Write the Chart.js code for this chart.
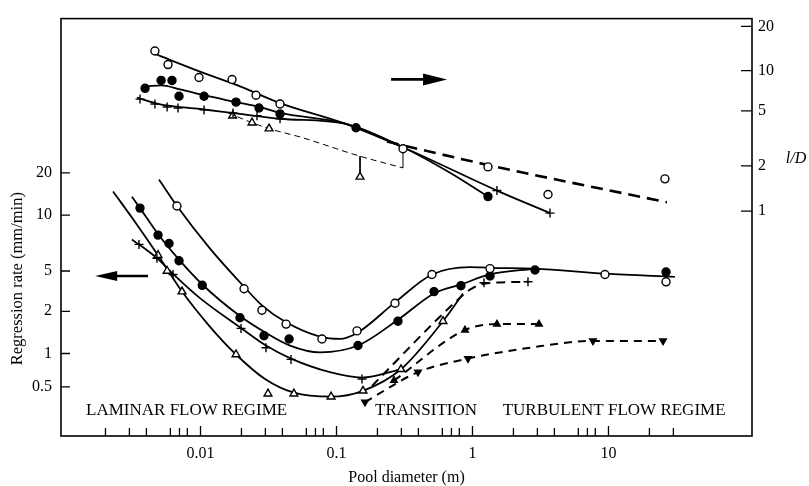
<!DOCTYPE html>
<html>
<head>
<meta charset="utf-8">
<title>Regression rate and l/D against pool diameter</title>
<script src="https://cdn.jsdelivr.net/npm/chart.js@4.4.1/dist/chart.umd.min.js"></script>
<style>
  html, body { margin: 0; padding: 0; background: #fff; }
</style>
</head>
<body>
<canvas id="chart" width="809" height="486"></canvas>
<script>
// ---- tick labels ----
const xTickLabels = [0.01, 0.1, 1, 10];
const xMinorTicks = [0.002, 0.003, 0.004, 0.006, 0.007, 0.008,
  0.02, 0.03, 0.04, 0.06, 0.07, 0.08,
  0.2, 0.3, 0.4, 0.6, 0.7, 0.8,
  2, 3, 4, 6, 7, 8, 20, 30];
const rateTicks = [0.5, 1, 2, 5, 10, 20];
const ldTicks = [1, 2, 5, 10, 20];
const regimeNames = ["LAMINAR FLOW REGIME", "TRANSITION", "TURBULENT FLOW REGIME"];

// ---- lower panel: regression rate (mm/min) vs pool diameter (m) ----
// open circles
const rateOpenD = [0.00671, 0.0209, 0.0283, 0.0426, 0.0782, 0.1415, 0.2693, 0.5035, 1.345, 9.42, 26.5];
const rateOpen = [11.6, 3.34, 2.05, 1.62, 1.27, 1.45, 2.4, 4.62, 5.15, 4.62, 3.91];
const rateOpenCurveD = [0.00495, 0.00671, 0.01175, 0.0209, 0.0283, 0.0426, 0.0756, 0.106, 0.1415, 0.2693, 0.5035, 0.9585, 1.345, 2.882, 9.42, 30.8];
const rateOpenCurve = [17.9, 11.6, 6.6, 3.5, 2.29, 1.67, 1.32, 1.27, 1.4, 2.45, 4.62, 5.25, 5.2, 5.15, 4.7, 4.37];
// filled circles
const rateFilledD = [0.00359, 0.00487, 0.00587, 0.00695, 0.0103, 0.0195, 0.0293, 0.0448, 0.1439, 0.2831, 0.5212, 0.8222, 1.345, 2.882, 26.5];
const rateFilled = [11.2, 7.8, 7.03, 5.68, 3.61, 1.8, 1.34, 1.27, 1.14, 1.7, 3.13, 3.58, 4.47, 5.06, 4.89];
const rateFilledCurveD = [0.00313, 0.00359, 0.00487, 0.00695, 0.0103, 0.0195, 0.0293, 0.0455, 0.0756, 0.1439, 0.2831, 0.5212, 0.8222, 1.345, 2.882];
const rateFilledCurve = [13.5, 11.2, 7.9, 5.75, 3.68, 1.85, 1.43, 1.14, 1.02, 1.14, 1.74, 3.0, 3.68, 4.62, 5.15];
// crosses
const ratePlusD = [0.00353, 0.00478, 0.00628, 0.01985, 0.0303, 0.0463, 0.154, 1.215, 2.559];
const ratePlus = [6.95, 5.86, 4.62, 1.51, 1.1, 0.885, 0.589, 3.83, 3.91];
const ratePlusCurveD = [0.00313, 0.00353, 0.00478, 0.00628, 0.00991, 0.01985, 0.0303, 0.0463, 0.0895, 0.154, 0.2979];
const ratePlusCurve = [7.38, 6.95, 5.86, 4.68, 2.7, 1.52, 1.14, 0.9, 0.679, 0.607, 0.721];
const ratePlusDashD = [0.1824, 0.743, 0.9585, 1.215, 2.559];
const ratePlusDash = [0.511, 2.45, 3.27, 3.74, 3.91];
// open triangles
const rateTriD = [0.00487, 0.00568, 0.00731, 0.01824, 0.03134, 0.0486, 0.0912, 0.1566, 0.2979, 0.6067];
const rateTri = [6.08, 5.0, 3.13, 0.98, 0.434, 0.434, 0.408, 0.461, 0.721, 1.7];
const rateTriCurveD = [0.002275, 0.0033, 0.00487, 0.00731, 0.01175, 0.01824, 0.0298, 0.0486, 0.0912, 0.1566, 0.2979, 0.6067, 0.851];
const rateTriCurve = [14.7, 9.18, 6.08, 3.13, 1.55, 0.98, 0.589, 0.443, 0.408, 0.461, 0.721, 1.7, 2.99];
// filled triangles (dashed)
const rateUpD = [0.2648, 0.881, 1.513, 3.083];
const rateUp = [0.571, 1.47, 1.62, 1.62];
// filled inverted triangles (dashed)
const rateDownD = [0.162, 0.3974, 0.9268, 7.69, 25.2];
const rateDown = [0.365, 0.679, 0.9, 1.23, 1.23];
const rateDownCurveD = [0.162, 0.3974, 0.9268, 2.647, 7.69, 25.2];
const rateDownCurve = [0.365, 0.679, 0.9, 1.1, 1.23, 1.23];

// ---- upper panel: l/D vs pool diameter (m) ----
const ldOpenD = [0.00462, 0.00577, 0.00975, 0.01706, 0.02559, 0.03843, 0.3083, 1.3, 3.591, 26.0];
const ldOpen = [13.6, 11.0, 8.89, 8.59, 6.55, 5.63, 2.66, 1.97, 1.29, 1.64];
const ldOpenCurveD = [0.00462, 0.00991, 0.01951, 0.03843, 0.1155, 0.3083];
const ldOpenCurve = [13.0, 9.83, 7.63, 5.72, 4.04, 2.73];
const ldOpenDashD = [0.235, 1.3, 26.9];
const ldOpenDash = [3.0, 2.03, 1.145];
const ldFilledD = [0.00391, 0.00513, 0.00617, 0.00695, 0.01062, 0.01824, 0.02692, 0.03843, 0.1391, 1.3];
const ldFilled = [7.38, 8.45, 8.45, 6.44, 6.44, 5.82, 5.26, 4.76, 3.78, 1.25];
const ldFilledCurveD = [0.00404, 0.00513, 0.00707, 0.01062, 0.01824, 0.02692, 0.03843, 0.1155, 0.3083, 0.6834, 1.3];
const ldFilledCurve = [7.63, 7.76, 7.25, 6.55, 5.82, 5.35, 4.84, 4.04, 2.73, 1.8, 1.25];
const ldPlusD = [0.00359, 0.00462, 0.00568, 0.00683, 0.01062, 0.01734, 0.02603, 0.03843, 1.513, 3.715];
const ldPlus = [6.13, 5.63, 5.35, 5.26, 5.09, 4.84, 4.61, 4.39, 1.37, 0.97];
const ldPlusCurveD = [0.00341, 0.00495, 0.00991, 0.01951, 0.03843, 0.1155, 0.3083, 1.513, 3.715];
const ldPlusCurve = [6.28, 5.63, 5.17, 4.76, 4.39, 4.04, 2.73, 1.37, 0.97];
const ldTriD = [0.0172, 0.02391, 0.03191, 0.1489];
const ldTri = [4.61, 4.11, 3.72, 1.69];
const ldTriLineD = [0.01597, 0.02391, 0.03191, 0.0539, 0.1489, 0.3083];
const ldTriLine = [4.84, 4.11, 3.72, 3.24, 2.35, 1.94];
const ldStemAD = [0.1489, 0.1489];
const ldStemA = [2.35, 1.8];
const ldStemBD = [0.3083, 0.3083];
const ldStemB = [1.94, 2.51];

// log axes whose decades are not evenly spaced in the original drawing:
// [value, fraction of plot height from the bottom]
const axisKnots = {
  yRate: [[0.18, 0], [0.5, 0.1176], [1, 0.1976], [2, 0.2988], [5, 0.3953], [10, 0.5294], [20, 0.6306], [250, 1]],
  yLd: [[0.032, 0], [1, 0.5388], [2, 0.6471], [5, 0.7788], [10, 0.8753], [20, 0.9812], [22.6, 1]]
};
const axisTicks = { yRate: rateTicks, yLd: ldTicks };

class KnotLogScale extends Chart.LogarithmicScale {
  determineDataLimits() {
    const k = axisKnots[this.id];
    this.min = k[0][0];
    this.max = k[k.length - 1][0];
  }
  buildTicks() {
    return axisTicks[this.id].map(v => ({ value: v }));
  }
  getPixelForValue(value) {
    const k = axisKnots[this.id];
    const lv = Math.log10(value);
    let i = 0;
    while (i < k.length - 2 && lv > Math.log10(k[i + 1][0])) i++;
    const a = Math.log10(k[i][0]), b = Math.log10(k[i + 1][0]);
    const f = k[i][1] + (lv - a) / (b - a) * (k[i + 1][1] - k[i][1]);
    return this.getPixelForDecimal(f);
  }
  getValueForPixel(pixel) {
    const k = axisKnots[this.id];
    const f = this.getDecimalForPixel(pixel);
    let i = 0;
    while (i < k.length - 2 && f > k[i + 1][1]) i++;
    const a = Math.log10(k[i][0]), b = Math.log10(k[i + 1][0]);
    return Math.pow(10, a + (f - k[i][1]) / (k[i + 1][1] - k[i][1]) * (b - a));
  }
}
KnotLogScale.id = "knotLog";
KnotLogScale.defaults = {};
Chart.register(KnotLogScale);

function pts(xs, ys) {
  return xs.map((x, i) => ({ x: x, y: ys[i] }));
}

function curve(xs, ys, axis, extra) {
  return Object.assign({
    data: pts(xs, ys),
    yAxisID: axis,
    showLine: true,
    borderColor: "#000",
    borderWidth: 1.8,
    pointRadius: 0,
    cubicInterpolationMode: "monotone",
    fill: false,
    order: 1
  }, extra || {});
}

function marks(xs, ys, axis, style, fillColor, radius, extra) {
  return Object.assign({
    data: pts(xs, ys),
    yAxisID: axis,
    showLine: false,
    pointStyle: style,
    pointRadius: radius,
    pointBackgroundColor: fillColor,
    pointBorderColor: "#000",
    pointBorderWidth: 1.4,
    backgroundColor: fillColor,
    borderColor: "#000",
    order: 0
  }, extra || {});
}

function arrow(ctx, x1, y, x2, headLen, half) {
  const dir = Math.sign(x2 - x1);
  const base = x2 - dir * headLen;
  ctx.lineWidth = 2.6;
  ctx.beginPath();
  ctx.moveTo(x1, y);
  ctx.lineTo(base + dir * 2, y);
  ctx.stroke();
  ctx.beginPath();
  ctx.moveTo(x2, y);
  ctx.lineTo(base, y - half);
  ctx.lineTo(base, y + half);
  ctx.closePath();
  ctx.fill();
}

// frame and inward tick marks
const frameTicks = {
  id: "frameTicks",
  beforeDatasetsDraw(chart) {
    const { ctx, chartArea: a, scales } = chart;
    ctx.save();
    ctx.strokeStyle = "#000";
    ctx.lineWidth = 1.6;
    ctx.strokeRect(a.left, a.top, a.right - a.left, a.bottom - a.top);
    ctx.lineWidth = 1.3;
    ctx.beginPath();
    xTickLabels.forEach(v => {
      const px = scales.x.getPixelForValue(v);
      ctx.moveTo(px, a.bottom);
      ctx.lineTo(px, a.bottom - 10);
    });
    xMinorTicks.forEach(v => {
      const px = scales.x.getPixelForValue(v);
      ctx.moveTo(px, a.bottom);
      ctx.lineTo(px, a.bottom - 8);
    });
    rateTicks.forEach(v => {
      const py = scales.yRate.getPixelForValue(v);
      ctx.moveTo(a.left, py);
      ctx.lineTo(a.left + 9, py);
    });
    ldTicks.forEach(v => {
      const py = scales.yLd.getPixelForValue(v);
      ctx.moveTo(a.right, py);
      ctx.lineTo(a.right - 11, py);
    });
    ctx.stroke();
    ctx.restore();
  }
};

// arrows, regime names and axis titles
const notes = {
  id: "notes",
  afterDatasetsDraw(chart) {
    const { ctx, chartArea: a, scales } = chart;
    const x = scales.x, yRate = scales.yRate, yLd = scales.yLd;
    ctx.save();
    ctx.fillStyle = "#000";
    ctx.strokeStyle = "#000";
    arrow(ctx, x.getPixelForValue(0.252), yLd.getPixelForValue(8.6), x.getPixelForValue(0.65), 24, 6);
    arrow(ctx, x.getPixelForValue(0.00411), yRate.getPixelForValue(4.47), x.getPixelForValue(0.00168), 22, 5);

    ctx.font = '17px "Liberation Serif"';
    ctx.textBaseline = "middle";
    ctx.textAlign = "left";
    const starts = [0.00144, 0.192, 1.667];
    regimeNames.forEach((name, i) => {
      ctx.fillText(name, x.getPixelForValue(starts[i]), a.bottom - 25);
    });

    ctx.font = '16.5px "Liberation Serif"';
    ctx.textAlign = "center";
    ctx.save();
    ctx.translate(a.left - 43, yRate.getPixelForValue(4.2));
    ctx.rotate(-Math.PI / 2);
    ctx.fillText("Regression rate (mm/min)", 0, 0);
    ctx.restore();

    ctx.font = 'italic 16px "Liberation Serif"';
    ctx.fillText("l/D", a.right + 44, yLd.getPixelForValue(2.24));
    ctx.restore();
  }
};

Chart.defaults.font.family = '"Liberation Serif", "Times New Roman", serif';
Chart.defaults.font.size = 16;
Chart.defaults.color = "#000";

const datasets = [
  // lower panel curves
  curve(rateOpenCurveD, rateOpenCurve, "yRate"),
  curve(rateFilledCurveD, rateFilledCurve, "yRate"),
  curve(ratePlusCurveD, ratePlusCurve, "yRate"),
  curve(rateTriCurveD, rateTriCurve, "yRate"),
  curve(ratePlusDashD, ratePlusDash, "yRate", { borderDash: [9, 6], borderWidth: 2 }),
  curve(rateUpD, rateUp, "yRate", { borderDash: [8, 6], borderWidth: 2 }),
  curve(rateDownCurveD, rateDownCurve, "yRate", { borderDash: [8, 6], borderWidth: 2 }),
  // lower panel markers
  marks(rateOpenD, rateOpen, "yRate", "circle", "#fff", 4),
  marks(rateFilledD, rateFilled, "yRate", "circle", "#000", 4),
  marks(ratePlusD, ratePlus, "yRate", "cross", "#000", 4.5),
  marks(rateTriD, rateTri, "yRate", "triangle", "#fff", 4.5),
  marks(rateUpD, rateUp, "yRate", "triangle", "#000", 3.8),
  marks(rateDownD, rateDown, "yRate", "triangle", "#000", 3.8, { pointRotation: 180 }),
  // upper panel curves
  curve(ldOpenCurveD, ldOpenCurve, "yLd"),
  curve(ldOpenDashD, ldOpenDash, "yLd", { borderDash: [12, 7], borderWidth: 2.6 }),
  curve(ldFilledCurveD, ldFilledCurve, "yLd"),
  curve(ldPlusCurveD, ldPlusCurve, "yLd"),
  curve(ldTriLineD, ldTriLine, "yLd", { borderDash: [6, 4], borderWidth: 1 }),
  curve(ldStemAD, ldStemA, "yLd", { borderWidth: 1, cubicInterpolationMode: "default", tension: 0 }),
  curve(ldStemBD, ldStemB, "yLd", { borderWidth: 1, cubicInterpolationMode: "default", tension: 0 }),
  // upper panel markers
  marks(ldOpenD, ldOpen, "yLd", "circle", "#fff", 4),
  marks(ldFilledD, ldFilled, "yLd", "circle", "#000", 4),
  marks(ldPlusD, ldPlus, "yLd", "cross", "#000", 4.5),
  marks(ldTriD, ldTri, "yLd", "triangle", "#fff", 4.5)
];

new Chart(document.getElementById("chart"), {
  type: "scatter",
  data: { datasets: datasets },
  options: {
    responsive: false,
    devicePixelRatio: 1,
    animation: false,
    events: [],
    layout: { padding: { top: 11, left: 0, right: 0, bottom: 0 } },
    plugins: {
      legend: { display: false },
      tooltip: { enabled: false }
    },
    scales: {
      x: {
        type: "logarithmic",
        position: "bottom",
        min: 0.000942,
        max: 113.6,
        grid: { display: false, drawTicks: false },
        border: { display: false },
        ticks: { autoSkip: false, maxRotation: 0, padding: 8, callback: v => String(v) },
        afterBuildTicks: scale => { scale.ticks = xTickLabels.map(v => ({ value: v })); },
        afterFit: scale => { scale.height = 50; },
        title: {
          display: true,
          text: "Pool diameter (m)",
          font: { size: 16, lineHeight: 1 },
          padding: 0
        }
      },
      yRate: {
        type: "knotLog",
        position: "left",
        grid: { display: false, drawTicks: false },
        border: { display: false },
        ticks: { autoSkip: false, padding: 9, callback: v => String(v) },
        afterFit: scale => { scale.width = 61; }
      },
      yLd: {
        type: "knotLog",
        position: "right",
        grid: { display: false, drawTicks: false },
        border: { display: false },
        ticks: { autoSkip: false, padding: 6, callback: v => String(v) },
        afterFit: scale => { scale.width = 57; }
      }
    }
  },
  plugins: [frameTicks, notes]
});
</script>
</body>
</html>
